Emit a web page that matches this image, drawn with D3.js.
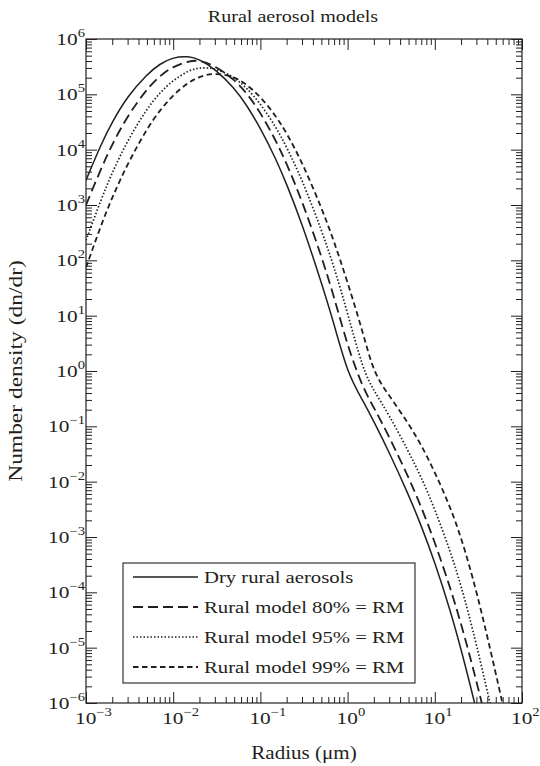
<!DOCTYPE html>
<html>
<head>
<meta charset="utf-8">
<script src="https://cdn.jsdelivr.net/npm/d3@7"></script>
<style>
body { margin: 0; background: #fff; }
svg { display: block; }
text { font-family: "Liberation Serif", "Times New Roman", serif; fill: #231f20; }
</style>
</head>
<body>
<svg width="540" height="766"></svg>
<script>
var radius = [0.001, 0.0015, 0.002, 0.003, 0.005, 0.007, 0.01, 0.015, 0.02, 0.03, 0.05, 0.07,
    0.1, 0.15, 0.2, 0.3, 0.5, 0.7, 1, 1.5, 2, 3, 5, 7, 10, 15, 20, 30, 50, 70];

// number density dn/dr for each model
var dryRural = [2.8e3, 1.29e4, 3.2e4, 9.3e4, 2.3e5, 3.55e5, 4.7e5, 4.9e5, 4.3e5, 2.9e5, 1.32e5, 6.3e4,
    2.45e4, 6.9e3, 2.4e3, 4.6e2, 40, 7.1, 0.89, 0.29, 0.122, 0.034, 5.8e-3, 1.6e-3, 3.5e-4, 4.8e-5, 9.5e-6, 7.6e-7, 2.5e-8, null];
var rural80 = [1.0e3, 4.7e3, 1.26e4, 4.1e4, 1.26e5, 2.15e5, 3.2e5, 4.0e5, 4.15e5, 3.3e5, 1.86e5, 1.05e5,
    4.7e4, 1.48e4, 5.6e3, 1.2e3, 1.2e2, 22, 2.8, 0.49, 0.22, 0.065, 0.012, 3.5e-3, 8.1e-4, 1.23e-4, 2.75e-5, 2.6e-6, 8.9e-8, null];
var rural95 = [230, 1.3e3, 3.9e3, 1.48e4, 5.5e4, 1.07e5, 1.8e5, 2.7e5, 3.05e5, 3.0e5, 2.05e5, 1.3e5,
    6.8e4, 2.6e4, 1.12e4, 2.9e3, 3.6e2, 76, 11.2, 1.05, 0.44, 0.16, 0.035, 0.012, 3.2e-3, 5.6e-4, 1.35e-4, 1.2e-5, 3.5e-7, null];
var rural99 = [74, 4.5e2, 1.38e3, 5.6e3, 2.4e4, 5.1e4, 9.8e4, 1.66e5, 2.1e5, 2.45e5, 2.1e5, 1.5e5,
    9.1e4, 4.1e4, 2.0e4, 6.0e3, 9.1e2, 2.2e2, 40, 5.0, 0.89, 0.36, 0.112, 0.046, 0.015, 3.5e-3, 1.0e-3, 1.12e-4, 3.5e-6, 3.2e-7];

var seriesNames = ["Dry rural aerosols", "Rural model 80% = RM", "Rural model 95% = RM", "Rural model 99% = RM"];
var xExponents = [-3, -2, -1, 0, 1, 2];
var yExponents = [6, 5, 4, 3, 2, 1, 0, -1, -2, -3, -4, -5, -6];

var ink = "#231f20";
var dashes = [null, "10,5", "1.5,2", "5.5,3.5"];
var widths = [1.5, 1.8, 1.7, 1.8];

var svg = d3.select("svg"),
    margin = {top: 39, right: 18, bottom: 63, left: 86},
    width = svg.attr("width") - margin.left - margin.right,
    height = svg.attr("height") - margin.top - margin.bottom,
    g = svg.append("g").attr("transform", "translate(" + margin.left + "," + margin.top + ")");

var x = d3.scaleLog().domain([1e-3, 1e2]).range([0, width]),
    y = d3.scaleLog().domain([1e-6, 1e6]).range([height, 0]);

function logTicks(lo, hi) {
    var t = [];
    for (var e = lo; e < hi; e++) {
        for (var k = 1; k < 10; k++) t.push(k * Math.pow(10, e));
    }
    t.push(Math.pow(10, hi));
    return t;
}
function isMajor(v) {
    var l = Math.log10(v);
    return Math.abs(l - Math.round(l)) < 1e-9;
}

var xTicks = logTicks(-3, 2),
    yTicks = logTicks(-6, 6);

function styleAxis(sel, attr, sign) {
    sel.select(".domain").remove();
    sel.selectAll(".tick line")
        .attr("stroke", ink)
        .attr(attr, function (d) { return sign * (isMajor(d) ? 11 : 6); });
}

g.append("g")
    .attr("transform", "translate(0," + height + ")")
    .call(d3.axisBottom(x).tickValues(xTicks).tickFormat("").tickSizeOuter(0))
    .call(styleAxis, "y2", -1);
g.append("g")
    .call(d3.axisTop(x).tickValues(xTicks).tickFormat("").tickSizeOuter(0))
    .call(styleAxis, "y2", 1);
g.append("g")
    .call(d3.axisLeft(y).tickValues(yTicks).tickFormat("").tickSizeOuter(0))
    .call(styleAxis, "x2", 1);
g.append("g")
    .attr("transform", "translate(" + width + ",0)")
    .call(d3.axisRight(y).tickValues(yTicks).tickFormat("").tickSizeOuter(0))
    .call(styleAxis, "x2", -1);

// tick labels with superscript exponents (the original face is wider, so stretch a bit)
function sup(e) { return e < 0 ? "\u2212" + (-e) : "" + e; }

var xl = g.append("g").selectAll("text")
    .data(xExponents)
    .enter().append("text")
    .attr("transform", function (d) { return "translate(" + (x(Math.pow(10, d)) - 11) + "," + (height + 21) + ") scale(1.22,1)"; })
    .style("font-size", "17.5px");
xl.append("tspan").text("10");
xl.append("tspan").attr("dy", -8).style("font-size", "12px").text(function (d) { return sup(d); });

var yl = g.append("g").selectAll("text")
    .data(yExponents)
    .enter().append("text")
    .attr("transform", function (d) { return "translate(-1," + (y(Math.pow(10, d)) + 6) + ") scale(1.22,1)"; })
    .attr("text-anchor", "end")
    .style("font-size", "17.5px");
yl.append("tspan").text("10");
yl.append("tspan").attr("dy", -8).style("font-size", "12px").text(function (d) { return sup(d); });

// curves
svg.append("defs").append("clipPath").attr("id", "plot")
    .append("rect").attr("width", width).attr("height", height);

var line = d3.line()
    .defined(function (d) { return d[1] != null; })
    .curve(d3.curveBasis)
    .x(function (d) { return x(d[0]); })
    .y(function (d) { return y(d[1]); });

var series = [dryRural, rural80, rural95, rural99];

g.append("g").attr("clip-path", "url(#plot)")
    .selectAll("path")
    .data(series)
    .enter().append("path")
    .attr("fill", "none")
    .attr("stroke", ink)
    .attr("stroke-width", function (d, i) { return widths[i]; })
    .attr("stroke-dasharray", function (d, i) { return dashes[i]; })
    .attr("d", function (d) { return line(radius.map(function (r, j) { return [r, d[j]]; })); });

// frame
g.append("rect")
    .attr("width", width).attr("height", height)
    .attr("fill", "none").attr("stroke", ink).attr("stroke-width", 1.2);

// legend
var legend = g.append("g").attr("transform", "translate(37,524)");
legend.append("rect")
    .attr("width", 292).attr("height", 120)
    .attr("fill", "#fff").attr("stroke", ink).attr("stroke-width", 1.1);
var item = legend.selectAll(".item")
    .data(seriesNames)
    .enter().append("g")
    .attr("class", "item")
    .attr("transform", function (d, i) { return "translate(0," + (14 + i * 30) + ")"; });
item.append("line")
    .attr("x1", 10).attr("x2", 75)
    .attr("stroke", ink)
    .attr("stroke-width", function (d, i) { return widths[i]; })
    .attr("stroke-dasharray", function (d, i) { return dashes[i]; });
item.append("text")
    .attr("transform", "translate(81,6) scale(1.17,1)")
    .style("font-size", "17.7px")
    .text(function (d) { return d; });

// titles
svg.append("text")
    .attr("transform", "translate(293,22) scale(1.18,1)")
    .attr("text-anchor", "middle")
    .style("font-size", "17px")
    .text("Rural aerosol models");
svg.append("text")
    .attr("transform", "translate(" + (margin.left + width / 2) + ",759) scale(1.17,1)")
    .attr("text-anchor", "middle")
    .style("font-size", "18px")
    .text("Radius (\u03bcm)");
svg.append("text")
    .attr("transform", "translate(22," + (margin.top + height / 2) + ") rotate(-90) scale(1.27,1)")
    .attr("text-anchor", "middle")
    .style("font-size", "18.5px")
    .text("Number density (dn/dr)");
</script>
</body>
</html>
